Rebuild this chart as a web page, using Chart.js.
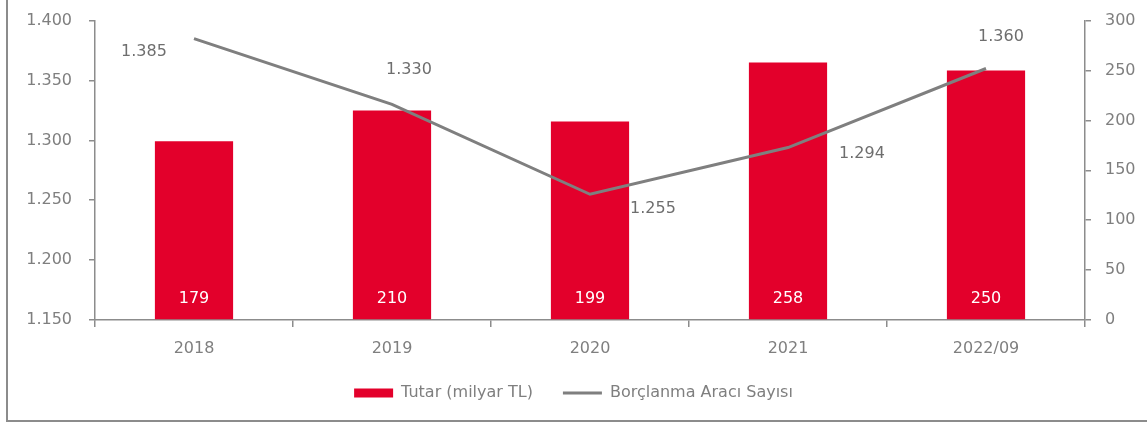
<!DOCTYPE html>
<html>
<head>
<meta charset="utf-8">
<script src="https://cdn.jsdelivr.net/npm/chart.js@4"></script>
<style>
  html, body { margin: 0; padding: 0; background: #fff; overflow: hidden; }
  #wrap { position: relative; width: 1147px; height: 423px; overflow: hidden; }
  #frame {
    position: absolute; left: 6px; top: 0; right: 0; bottom: 1px;
    border-left: 2px solid #8c8c8c; border-bottom: 2px solid #8c8c8c;
  }
  canvas { position: absolute; left: 0; top: -6px; }
</style>
</head>
<body>
<div id="wrap">
  <div id="frame"></div>
  <canvas id="chart" width="1147" height="429"></canvas>
</div>
<script>
// veriler
const years = ['2018', '2019', '2020', '2021', '2022/09'];
const tutar = [179, 210, 199, 258, 250];          // milyar TL (sağ eksen)
const aracSayisi = [1385, 1330, 1255, 1294, 1360]; // adet (sol eksen)

// etiket kaydırmaları (sadece görünüm)
const lineLabelShift = [[-50, 13], [17, -35], [63, 15], [74, 6], [15, -32]];

const gray = '#7f7f7f';
const red = '#e3002b';
const font = { family: 'DejaVu Sans', size: 16 };

// 1.385 gibi noktalı binlik ayırıcı
function fmt(v) {
    return String(v).replace(/\B(?=(\d{3})+(?!\d))/g, '.');
}

// veri etiketleri
const labelPlugin = {
    id: 'labels',
    afterDatasetsDraw(chart) {
        const ctx = chart.ctx;
        ctx.save();
        ctx.font = '16px "DejaVu Sans"';
        ctx.textAlign = 'center';
        ctx.textBaseline = 'middle';

        const bars = chart.getDatasetMeta(0).data;
        ctx.fillStyle = '#ffffff';
        bars.forEach((el, i) => {
            ctx.fillText(fmt(tutar[i]), el.x, el.base - 20);
        });

        const pts = chart.getDatasetMeta(1).data;
        ctx.fillStyle = '#6e6e6e';
        pts.forEach((el, i) => {
            const s = lineLabelShift[i];
            ctx.fillText(fmt(aracSayisi[i]), el.x + s[0], el.y + s[1]);
        });
        ctx.restore();
    }
};

new Chart(document.getElementById('chart'), {
    type: 'bar',
    data: {
        labels: years,
        datasets: [{
            type: 'bar',
            label: 'Tutar (milyar TL)',
            data: tutar,
            backgroundColor: red,
            yAxisID: 'yR',
            order: 1,
            categoryPercentage: 1,
            barPercentage: 0.395,
            pointStyle: 'rect'
        }, {
            type: 'line',
            label: 'Borçlanma Aracı Sayısı',
            data: aracSayisi,
            borderColor: gray,
            backgroundColor: gray,
            borderWidth: 3,
            pointRadius: 0,
            tension: 0,
            yAxisID: 'yL',
            order: 0,
            pointStyle: 'line'
        }]
    },
    options: {
        responsive: false,
        animation: false,
        layout: { padding: { top: 0, bottom: 12 } },
        plugins: {
            tooltip: { enabled: false },
            legend: {
                position: 'bottom',
                labels: {
                    usePointStyle: true,
                    pointStyleWidth: 39,
                    boxHeight: 9,
                    color: gray,
                    font: font,
                    padding: 30,
                    sort: (a, b) => a.datasetIndex - b.datasetIndex
                }
            }
        },
        scales: {
            x: {
                offset: true,
                grid: { offset: true, drawOnChartArea: false, color: '#8c8c8c', tickLength: 7, lineWidth: 1.5 },
                border: { color: '#8c8c8c', width: 1.5 },
                ticks: { color: gray, font: font, padding: 12 },
                afterFit(s) { s.height = 35; }
            },
            yL: {
                position: 'left',
                min: 1150,
                max: 1400,
                ticks: { stepSize: 50, color: gray, font: font, padding: 17, callback: v => fmt(v) },
                grid: { drawOnChartArea: false, color: '#8c8c8c', tickLength: 6, lineWidth: 1.5 },
                border: { color: '#8c8c8c', width: 1.5 },
                afterFit(s) { s.width = 95; }
            },
            yR: {
                position: 'right',
                min: 0,
                max: 300,
                ticks: { stepSize: 50, color: gray, font: font, padding: 14 },
                grid: { drawOnChartArea: false, color: '#8c8c8c', tickLength: 6, lineWidth: 1.5 },
                border: { color: '#8c8c8c', width: 1.5 },
                afterFit(s) { s.width = 62; }
            }
        }
    },
    plugins: [labelPlugin]
});
</script>
</body>
</html>
